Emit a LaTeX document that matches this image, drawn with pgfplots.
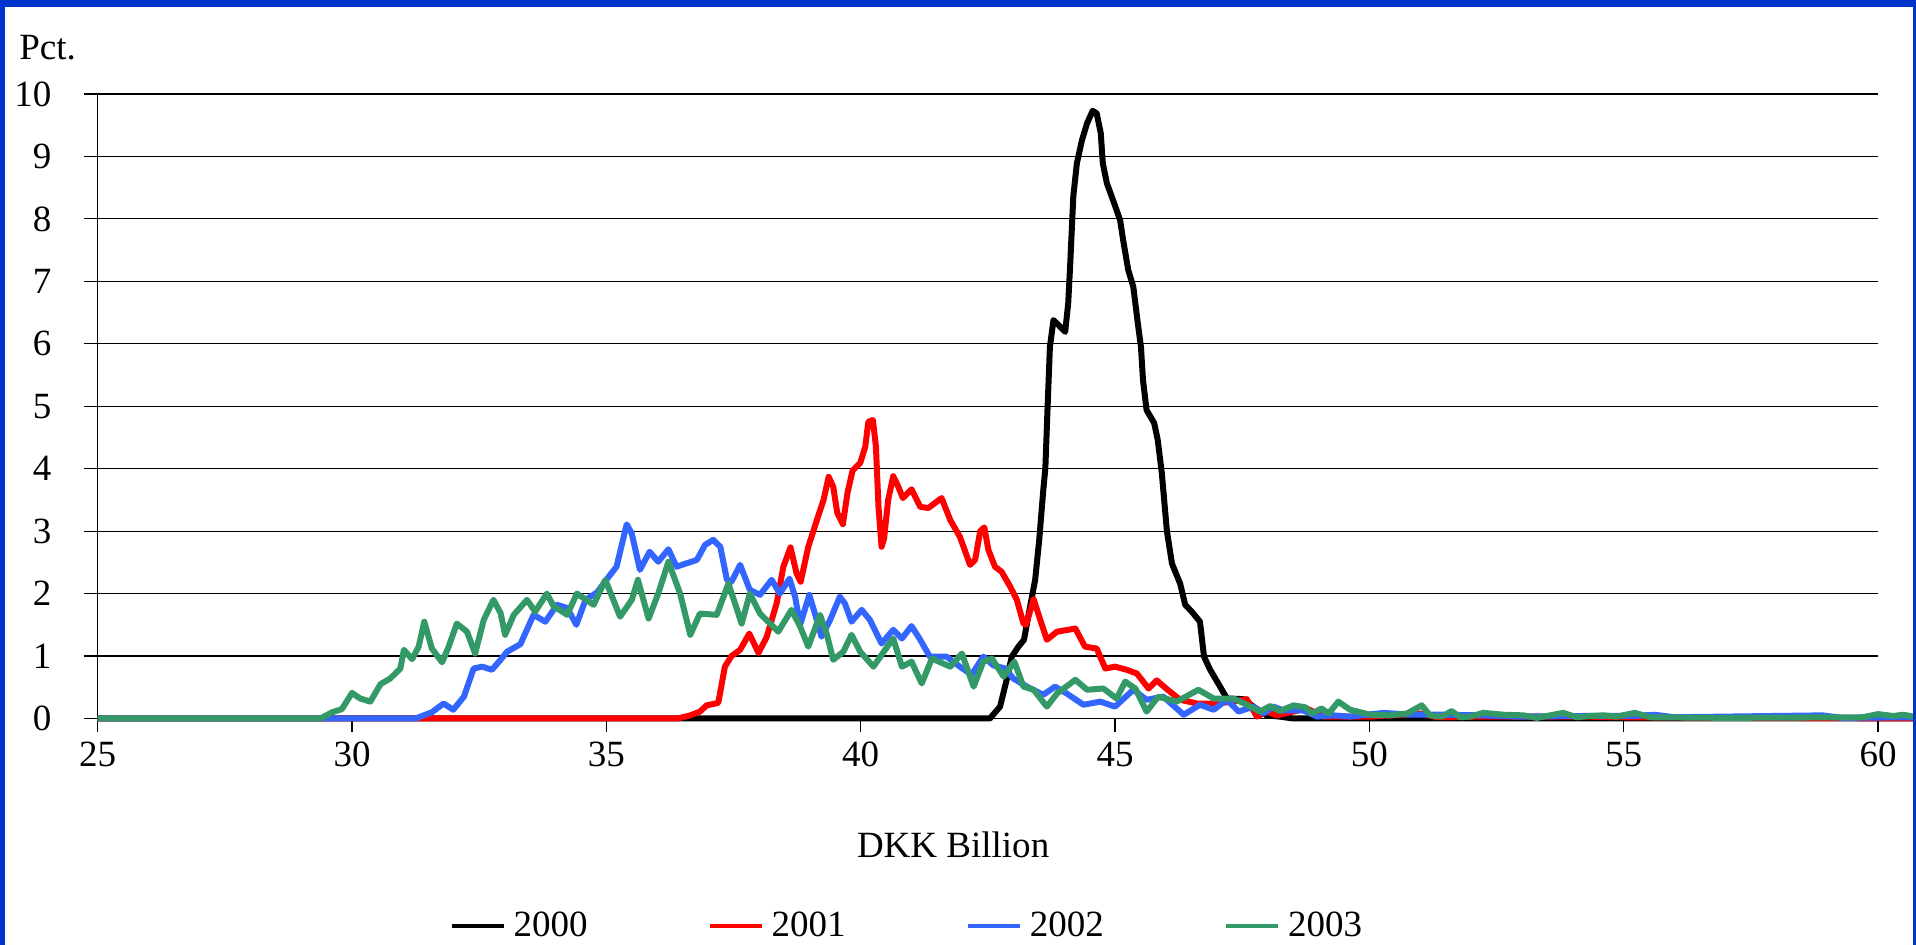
\documentclass[border=0pt]{standalone}
\usepackage{fontspec}
\setmainfont{Liberation Serif}
\usepackage{pgfplots}
\pgfplotsset{compat=1.18}
\usepackage{pgfplotstable}
\definecolor{frameblue}{RGB}{0,51,204}
\definecolor{c2001}{RGB}{255,0,0}
\definecolor{c2002}{RGB}{51,102,255}
\definecolor{c2003}{RGB}{51,153,102}
\newcommand{\chartfont}{\fontsize{18.5}{22}\selectfont}

\pgfplotstableread{
x y
25 0
42.3 0
42.54 0.0
42.74 0.19
42.87 0.62
42.97 0.99
43.10 1.15
43.21 1.26
43.33 1.79
43.43 2.22
43.51 2.86
43.59 3.66
43.63 4.0
43.67 4.89
43.72 5.95
43.79 6.38
43.89 6.30
44.02 6.19
44.08 6.65
44.12 7.29
44.18 8.36
44.25 8.89
44.35 9.26
44.45 9.53
44.56 9.73
44.64 9.69
44.72 9.37
44.76 8.89
44.84 8.57
44.97 8.28
45.10 7.98
45.16 7.66
45.26 7.18
45.36 6.91
45.44 6.38
45.51 5.95
45.55 5.42
45.62 4.94
45.77 4.73
45.84 4.46
45.92 3.93
46.02 3.0
46.12 2.48
46.28 2.16
46.38 1.82
46.51 1.71
46.67 1.55
46.75 0.99
46.87 0.78
47.03 0.56
47.20 0.32
47.52 0.31
47.72 0.19
47.98 0.05
48.24 0.03
48.5 0
60.7 0
}\tA

\pgfplotstableread{
x y
25 0
36.4 0
36.65 0.05
36.84 0.11
36.97 0.21
37.20 0.25
37.33 0.83
37.46 1.0
37.63 1.10
37.81 1.36
37.99 1.05
38.15 1.30
38.35 1.85
38.48 2.43
38.62 2.74
38.74 2.32
38.82 2.19
38.97 2.75
39.14 3.18
39.27 3.50
39.37 3.87
39.46 3.71
39.54 3.29
39.65 3.11
39.74 3.61
39.84 3.97
39.99 4.09
40.09 4.35
40.15 4.75
40.24 4.78
40.30 4.35
40.35 3.39
40.41 2.75
40.46 2.88
40.54 3.50
40.64 3.88
40.74 3.71
40.83 3.53
41.00 3.67
41.17 3.39
41.33 3.37
41.59 3.53
41.76 3.18
41.95 2.91
42.15 2.46
42.25 2.54
42.35 3.0
42.43 3.06
42.51 2.70
42.64 2.43
42.77 2.35
42.94 2.11
43.07 1.90
43.20 1.52
43.25 1.50
43.40 1.91
43.53 1.58
43.66 1.26
43.86 1.39
44.22 1.44
44.41 1.15
44.64 1.12
44.81 0.80
45.0 0.83
45.23 0.78
45.43 0.72
45.66 0.48
45.82 0.61
46.02 0.47
46.28 0.30
46.61 0.24
46.94 0.24
47.33 0.27
47.59 0.31
47.79 0.03
47.98 0.11
48.18 0.05
48.77 0.16
49.1 0.03
50.0 0.03
51.03 0.08
51.32 0.02
52.24 0.03
54.21 0.03
55 0.02
60.7 0
}\tB

\pgfplotstableread{
x y
25 0
31.25 0
31.57 0.10
31.80 0.24
31.99 0.14
32.20 0.35
32.39 0.80
32.56 0.83
32.75 0.78
32.92 0.94
33.05 1.07
33.31 1.19
33.57 1.66
33.80 1.55
34.03 1.82
34.23 1.77
34.41 1.50
34.59 1.90
34.82 2.02
34.98 2.2
35.2 2.43
35.40 3.11
35.50 2.96
35.66 2.38
35.85 2.67
36.02 2.51
36.22 2.71
36.38 2.43
36.78 2.54
36.94 2.78
37.10 2.86
37.24 2.75
37.37 2.22
37.46 2.19
37.63 2.46
37.82 2.06
38.02 1.98
38.25 2.22
38.41 2.0
38.60 2.24
38.71 1.95
38.81 1.50
38.99 1.98
39.10 1.68
39.23 1.31
39.40 1.58
39.59 1.95
39.69 1.84
39.82 1.55
40.02 1.74
40.18 1.58
40.41 1.20
40.64 1.42
40.81 1.28
41.00 1.48
41.17 1.26
41.36 0.99
41.69 0.99
41.95 0.83
42.18 0.70
42.41 0.99
42.61 0.85
42.84 0.80
43.0 0.64
43.27 0.51
43.59 0.38
43.82 0.51
44.05 0.40
44.38 0.22
44.71 0.27
45.0 0.19
45.36 0.46
45.62 0.30
45.95 0.35
46.35 0.06
46.67 0.22
46.94 0.14
47.20 0.30
47.43 0.11
47.72 0.19
47.92 0.08
48.11 0.19
48.31 0.13
48.70 0.13
48.97 0.03
49.29 0.05
49.62 0.03
50.28 0.09
50.80 0.06
51.46 0.06
52.24 0.05
52.90 0.03
54.21 0.04
55.19 0.04
55.6 0.06
56.0 0.02
58.9 0.05
59.3 0.01
60.7 0.02
}\tC

\pgfplotstableread{
x y
25 0
29.38 0
29.61 0.10
29.80 0.15
30.0 0.41
30.16 0.32
30.36 0.27
30.56 0.55
30.75 0.64
30.95 0.80
31.02 1.10
31.18 0.95
31.31 1.15
31.42 1.55
31.57 1.12
31.77 0.90
31.90 1.15
32.06 1.52
32.26 1.39
32.42 1.04
32.59 1.58
32.78 1.90
32.92 1.69
33.01 1.34
33.18 1.66
33.44 1.90
33.60 1.71
33.83 2.0
33.96 1.80
34.23 1.66
34.42 2.0
34.75 1.82
34.98 2.22
35.27 1.63
35.50 1.90
35.62 2.22
35.83 1.60
36.02 2.0
36.22 2.51
36.45 2.0
36.65 1.34
36.84 1.68
37.17 1.66
37.40 2.16
37.66 1.52
37.82 2.0
38.02 1.68
38.38 1.39
38.64 1.74
38.81 1.47
38.97 1.15
39.20 1.66
39.33 1.36
39.46 0.94
39.66 1.07
39.82 1.34
39.99 1.07
40.25 0.83
40.48 1.10
40.64 1.28
40.81 0.83
41.00 0.91
41.20 0.56
41.40 0.96
41.76 0.83
41.99 1.04
42.22 0.51
42.41 0.91
42.58 0.96
42.81 0.67
43.02 0.91
43.20 0.51
43.40 0.46
43.66 0.19
43.86 0.40
44.22 0.62
44.45 0.46
44.77 0.48
45.03 0.32
45.20 0.59
45.40 0.48
45.62 0.11
45.85 0.35
46.21 0.27
46.64 0.46
46.94 0.32
47.33 0.32
47.59 0.22
47.85 0.11
48.05 0.20
48.24 0.12
48.51 0.21
48.74 0.18
48.87 0.08
49.06 0.16
49.20 0.08
49.39 0.27
49.62 0.14
50.02 0.06
50.41 0.05
50.74 0.08
51.03 0.21
51.19 0.05
51.42 0.03
51.62 0.12
51.78 0.02
51.98 0.03
52.24 0.09
52.64 0.06
53.03 0.05
53.29 0.01
53.81 0.09
54.08 0.02
54.34 0.04
54.60 0.05
54.86 0.03
55.22 0.09
55.52 0.02
57.0 0.01
59.7 0.02
60.0 0.07
60.3 0.04
60.5 0.06
60.7 0.03
}\tD

\begin{document}
\begin{tikzpicture}
\useasboundingbox (0,0) rectangle (958pt,472.5pt);
\fill[white] (0,0) rectangle (958pt,472.5pt);
\begin{axis}[
  at={(48.85pt,113.25pt)}, anchor=south west,
  scale only axis, width=890.15pt, height=312.25pt,
  xmin=25, xmax=60, ymin=0, ymax=10,
  clip=false,
  axis x line=bottom, axis y line=left,
  axis line style={-, black, line width=0.7pt},
  xtick={25,30,...,60}, ytick={0,1,...,10},
  tick align=outside, major tick length=7pt,
  tick style={black, line width=0.6pt},
  ymajorgrids, grid style={black, line width=0.6pt},
  /pgf/number format/assume math mode=true,
  tick label style={font=\chartfont},
  xticklabel style={anchor=north, inner sep=0pt, yshift=-4.5pt},
  yticklabel style={anchor=east, inner sep=0pt, xshift=-16pt},
  xlabel={DKK Billion},
  xlabel style={font=\chartfont, at={(axis description cs:0.4805,0)}, anchor=center, yshift=-63pt},
  ylabel={Pct.},
  ylabel style={font=\chartfont, rotate=-90, at={(axis description cs:-0.0442,1.056)}, anchor=base west, inner sep=0pt},
  legend columns=4,
  legend style={draw=none, fill=none, font=\chartfont,
    at={(axis description cs:0.455,-0.332)}, anchor=center,
    /tikz/every even column/.append style={column sep=58pt}},
  legend image code/.code={\draw[#1, line width=2.2pt] (0pt,0pt) -- (26pt,0pt); \path (27.5pt,0pt);},
  every axis plot/.append style={line width=3pt, line join=round, mark=none},
]
\addplot[black] table[x=x,y=y] {\tA};
\addlegendentry{2000}
\addplot[c2001] table[x=x,y=y] {\tB};
\addlegendentry{2001}
\addplot[c2002] table[x=x,y=y] {\tC};
\addlegendentry{2002}
\addplot[c2003] table[x=x,y=y] {\tD};
\addlegendentry{2003}
\end{axis}
\fill[frameblue] (0,0) rectangle (2.5pt,472.5pt);
\fill[frameblue] (0,469pt) rectangle (958pt,472.5pt);
\fill[frameblue] (956.5pt,0) rectangle (958pt,472.5pt);
\end{tikzpicture}
\end{document}
